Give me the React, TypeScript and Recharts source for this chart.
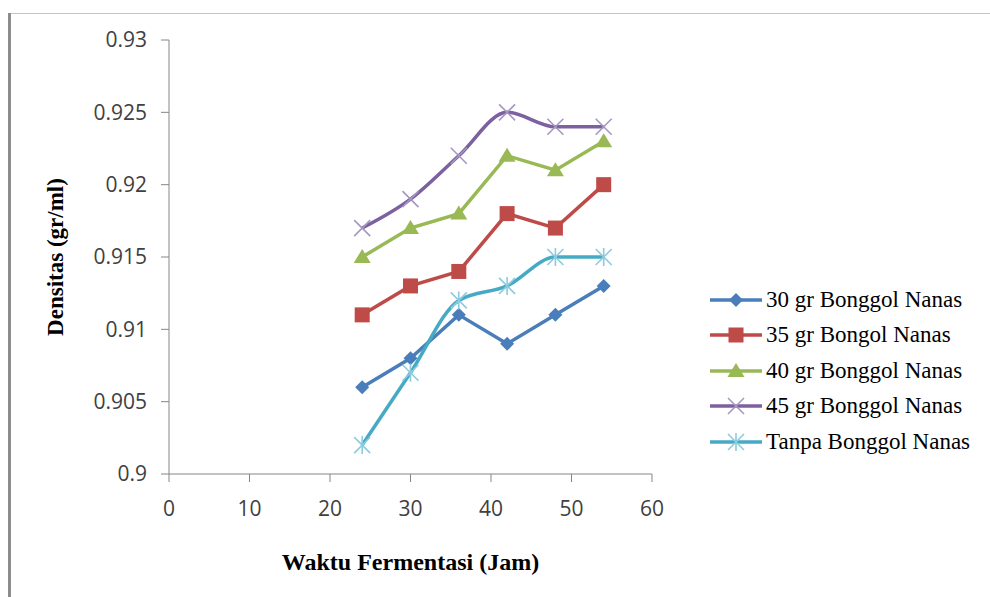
import { LineChart, Line, XAxis, YAxis, Legend, Label } from "recharts";

const hours = [24, 30, 36, 42, 48, 54];
const gr30 = [0.906, 0.908, 0.911, 0.909, 0.911, 0.913];
const gr35 = [0.911, 0.913, 0.914, 0.918, 0.917, 0.92];
const gr40 = [0.915, 0.917, 0.918, 0.922, 0.921, 0.923];
const gr45 = [0.917, 0.919, 0.922, 0.925, 0.924, 0.924];
const tanpa = [0.902, 0.907, 0.912, 0.913, 0.915, 0.915];

const xTicks = [0, 10, 20, 30, 40, 50, 60];
const yTicks = [0.9, 0.905, 0.91, 0.915, 0.92, 0.925, 0.93];

const data = hours.map((h, i) => ({
  h,
  gr30: gr30[i],
  gr35: gr35[i],
  gr40: gr40[i],
  gr45: gr45[i],
  tanpa: tanpa[i],
}));

type Shape = "diamond" | "square" | "triangle" | "cross" | "star";

// draws one marker of the given shape around cx, cy
function marker(shape: Shape, cx: number, cy: number, color: string, mark: string, key?: any) {
  if (shape === "diamond") {
    return <polygon key={key} points={`${cx},${cy - 7} ${cx + 7},${cy} ${cx},${cy + 7} ${cx - 7},${cy}`} fill={color} />;
  }
  if (shape === "square") {
    return <rect key={key} x={cx - 7.5} y={cy - 7.5} width={15} height={15} fill={color} />;
  }
  if (shape === "triangle") {
    return <polygon key={key} points={`${cx},${cy - 8} ${cx + 8.5},${cy + 6} ${cx - 8.5},${cy + 6}`} fill={color} />;
  }
  const d = 8;
  return (
    <g key={key} stroke={mark} strokeWidth={1.6}>
      <line x1={cx - d} y1={cy - d} x2={cx + d} y2={cy + d} />
      <line x1={cx - d} y1={cy + d} x2={cx + d} y2={cy - d} />
      {shape === "star" && <line x1={cx} y1={cy - d - 1} x2={cx} y2={cy + d + 1} />}
    </g>
  );
}

const series = [
  { key: "gr30", name: "30 gr Bonggol Nanas", color: "#4a7ebb", mark: "#4a7ebb", shape: "diamond" as Shape, type: "linear" },
  { key: "gr35", name: "35 gr Bongol Nanas", color: "#be4b48", mark: "#be4b48", shape: "square" as Shape, type: "linear" },
  { key: "gr40", name: "40 gr Bonggol Nanas", color: "#98b954", mark: "#98b954", shape: "triangle" as Shape, type: "linear" },
  { key: "gr45", name: "45 gr Bonggol Nanas", color: "#7d60a0", mark: "#a597c0", shape: "cross" as Shape, type: "monotone" },
  { key: "tanpa", name: "Tanpa Bonggol Nanas", color: "#46aac5", mark: "#8ccbdd", shape: "star" as Shape, type: "monotone" },
];

function LegendBox() {
  return (
    <div style={{ fontFamily: "'Liberation Serif', 'Times New Roman', serif", fontSize: 23, color: "#000" }}>
      {series.map((s) => (
        <div key={s.key} style={{ display: "flex", alignItems: "center", height: 35.5 }}>
          <svg width={54} height={24} style={{ marginRight: 2 }}>
            <line x1={0} y1={12} x2={52} y2={12} stroke={s.color} strokeWidth={3.5} />
            {marker(s.shape, 26, 12, s.color, s.mark)}
          </svg>
          <span style={{ whiteSpace: "nowrap" }}>{s.name}</span>
        </div>
      ))}
    </div>
  );
}

const tickStyle = { fontFamily: "'Open Sans', sans-serif", fontSize: 21, fill: "#404040" };
const titleStyle = { fontFamily: "'Liberation Serif', serif", fontSize: 23, fontWeight: "bold", fill: "#000" };

export default function App() {
  return (
    <div style={{ position: "absolute", left: 0, top: 0, width: 990, height: 597, background: "#fff" }}>
      <div style={{ position: "absolute", left: 8, top: 13, right: 0, height: 1, background: "#c6c6c6" }} />
      <div style={{ position: "absolute", left: 8, top: 13, bottom: 0, width: 3, background: "#8c8c8c" }} />
      <LineChart width={990} height={597} data={data} margin={{ top: 40, right: 338, left: 9, bottom: 23 }}>
        <XAxis
          dataKey="h"
          type="number"
          domain={[0, 60]}
          ticks={xTicks}
          stroke="#868686"
          tickSize={8}
          tickMargin={19}
          tick={tickStyle}
          height={100}
        >
          <Label value="Waktu Fermentasi (Jam)" position="insideBottom" offset={4} style={{ ...titleStyle, fontSize: 24 }} />
        </XAxis>
        <YAxis
          type="number"
          domain={[0.9, 0.93]}
          ticks={yTicks}
          stroke="#868686"
          tickSize={8}
          tickMargin={14}
          tick={tickStyle}
          width={160}
          tickFormatter={(v) => String(v)}
        >
          <Label value="Densitas (gr/ml)" angle={-90} position="insideLeft" offset={46} style={{ ...titleStyle, textAnchor: "middle" }} />
        </YAxis>
        <Legend
          layout="vertical"
          align="center"
          verticalAlign="middle"
          wrapperStyle={{ left: 710, top: 282, width: 280 }}
          content={() => <LegendBox />}
        />
        {series.map((s) => (
          <Line
            key={s.key}
            dataKey={s.key}
            name={s.name}
            type={s.type as any}
            stroke={s.color}
            strokeWidth={3.5}
            isAnimationActive={false}
            dot={(p: any) => marker(s.shape, p.cx, p.cy, s.color, s.mark, p.index)}
            activeDot={false}
          />
        ))}
      </LineChart>
    </div>
  );
}
